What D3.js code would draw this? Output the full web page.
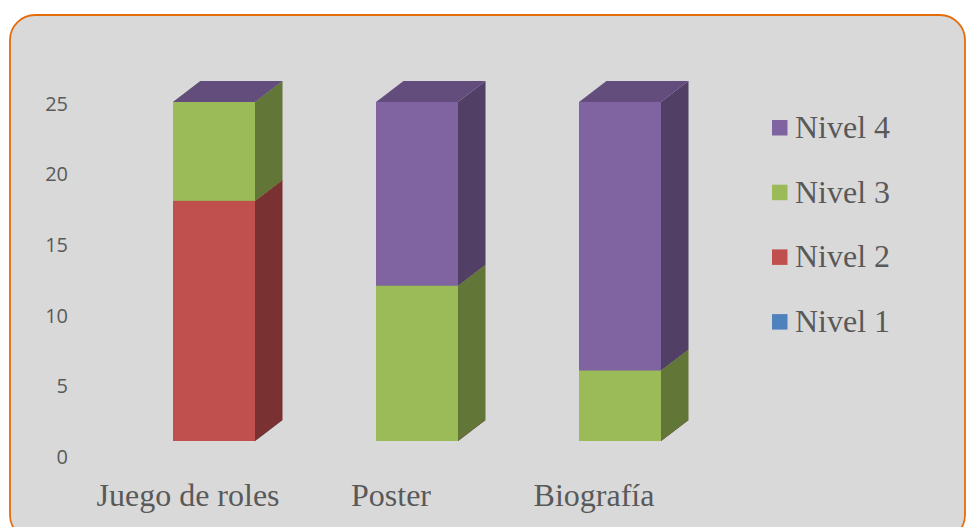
<!DOCTYPE html>
<html>
<head>
<meta charset="utf-8">
<script src="https://cdn.jsdelivr.net/npm/d3@7"></script>
<style>
  html, body { margin: 0; padding: 0; background: #ffffff; }
  svg { display: block; }
</style>
</head>
<body>
<svg id="chart" width="966" height="527"></svg>
<script>
// Data
const categories = ["Juego de roles", "Poster", "Biografía"];
const seriesNames = ["Nivel 1", "Nivel 2", "Nivel 3", "Nivel 4"];
const nivel1 = [0, 0, 0];
const nivel2 = [17, 0, 0];
const nivel3 = [7, 11, 5];
const nivel4 = [0, 13, 19];
const yTicks = [0, 5, 10, 15, 20, 25];

const seriesValues = [nivel1, nivel2, nivel3, nivel4];
const seriesColors = ["#4F81BD", "#C0504D", "#9BBB59", "#8064A2"];

const svg = d3.select("#chart");

// Panel
svg.append("rect")
  .attr("x", 10).attr("y", 15)
  .attr("width", 955).attr("height", 525)
  .attr("rx", 25).attr("ry", 25)
  .attr("fill", "#D9D9D9")
  .attr("stroke", "#E46C0A")
  .attr("stroke-width", 1.8);

// Scales
const x = d3.scalePoint().domain(categories).range([214, 620]);
const y = d3.scaleLinear().domain([0, 25]).range([441, 441 - 25 * 14.125]);
const barW = 82;
const dx = 27.5, dy = -21;   // depth offset of the 3D boxes
const floorShift = 16;       // axis labels sit on the back wall

// Shade helper
function shade(hex, f) {
  const c = d3.rgb(hex);
  return d3.rgb(c.r * f, c.g * f, c.b * f).formatHex();
}

// Stack
const rows = categories.map((c, i) => {
  const r = { cat: c };
  seriesNames.forEach((s, j) => r[s] = seriesValues[j][i]);
  return r;
});
const stacked = d3.stack().keys(seriesNames)(rows);

// Y axis labels
const axis = d3.axisLeft(y).tickValues(yTicks).tickSize(0).tickPadding(0);
const gAxis = svg.append("g")
  .attr("transform", `translate(68, ${floorShift})`)
  .call(axis);
gAxis.select(".domain").remove();
gAxis.selectAll("text")
  .attr("fill", "#595959")
  .style("font-family", "'Open Sans', 'Noto Sans', sans-serif")
  .style("font-size", "20px");

// Bars: each segment drawn as a box (front, side, top), bottom to top
const gBars = svg.append("g");
categories.forEach((cat, ci) => {
  const x0 = x(cat) - barW / 2, x1 = x(cat) + barW / 2;
  stacked.forEach((layer, si) => {
    const d = layer[ci];
    const yb = y(d[0]), yt = y(d[1]);
    const col = seriesColors[si];
    const g = gBars.append("g");
    // front
    g.append("rect")
      .attr("x", x0).attr("y", yt)
      .attr("width", barW).attr("height", yb - yt)
      .attr("fill", col);
    // side
    g.append("path")
      .attr("d", `M${x1},${yb}L${x1 + dx},${yb + dy}L${x1 + dx},${yt + dy}L${x1},${yt}Z`)
      .attr("fill", shade(col, 0.63));
    // top
    g.append("path")
      .attr("d", `M${x0},${yt}L${x1},${yt}L${x1 + dx},${yt + dy}L${x0 + dx},${yt + dy}Z`)
      .attr("fill", shade(col, 0.77));
  });
});

// Category labels
svg.append("g").selectAll("text")
  .data(categories)
  .join("text")
  .attr("x", d => x(d) - 26)
  .attr("y", 506)
  .attr("text-anchor", "middle")
  .attr("fill", "#595959")
  .style("font-family", "'Liberation Serif', 'Times New Roman', serif")
  .style("font-size", "32px")
  .text(d => d);

// Legend (reverse order)
const legendOrder = seriesNames.map((s, i) => i).reverse();
const gLeg = svg.append("g");
legendOrder.forEach((si, k) => {
  const base = 138 + k * 64.7;
  gLeg.append("rect")
    .attr("x", 772).attr("y", base - 18)
    .attr("width", 15.5).attr("height", 15.5)
    .attr("fill", seriesColors[si]);
  gLeg.append("text")
    .attr("x", 795).attr("y", base)
    .attr("fill", "#595959")
    .style("font-family", "'Liberation Serif', 'Times New Roman', serif")
    .style("font-size", "32px")
    .text(seriesNames[si]);
});
</script>
</body>
</html>
